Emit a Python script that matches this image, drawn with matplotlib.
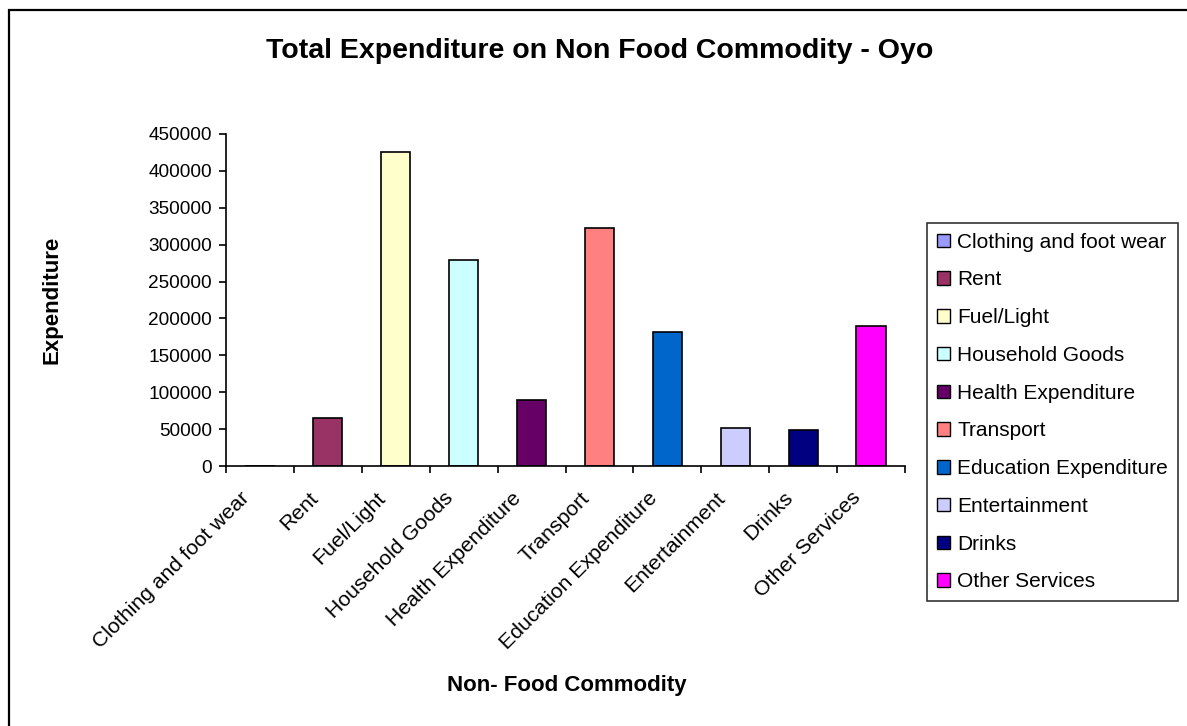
import matplotlib
matplotlib.use("Agg")
import matplotlib.pyplot as plt
from matplotlib.patches import Rectangle, Patch
from matplotlib.ticker import FixedLocator
from matplotlib.transforms import ScaledTranslation

plt.rcParams["font.family"] = ["Liberation Sans", "DejaVu Sans"]

# 数据
categories = ["Clothing and foot wear", "Rent", "Fuel/Light", "Household Goods",
              "Health Expenditure", "Transport", "Education Expenditure",
              "Entertainment", "Drinks", "Other Services"]
values = [0, 65000, 425000, 279000, 89500, 322000, 181000, 51500, 49000, 190000]
colors = ["#9999FF", "#993366", "#FFFFCC", "#CCFFFF", "#660066",
          "#FF8080", "#0066CC", "#CCCCFF", "#000080", "#FF00FF"]
yticks = [0, 50000, 100000, 150000, 200000, 250000, 300000, 350000, 400000, 450000]

W, H = 1187, 726
fig = plt.figure(figsize=(W / 100, H / 100), dpi=100)

# 外框
fig.patches.append(Rectangle((9 / W, -0.01), 1.0, 1 - 10 / H + 0.01,
                             transform=fig.transFigure, fill=False,
                             edgecolor="black", linewidth=1.6))

ax = fig.add_axes([226 / W, 1 - 466 / H, (905 - 226) / W, (466 - 134) / H])

x = list(range(len(categories)))
ax.bar(x, values, width=0.43, color=colors, edgecolor="black", linewidth=1.2)

ax.set_xlim(-0.5, len(categories) - 0.5)
ax.set_ylim(0, 450000)
ax.set_yticks(yticks)
ax.set_yticklabels([str(v) for v in yticks], fontsize=13.7)

ax.set_xticks(x)
ax.set_xticklabels(categories, fontsize=15.3, rotation=45,
                   ha="right", va="center", rotation_mode="anchor")
ax.tick_params(axis="x", which="major", length=0, pad=18)
ax.xaxis.set_minor_locator(FixedLocator([i - 0.5 for i in range(len(categories) + 1)]))
ax.tick_params(axis="x", which="minor", length=5, width=1.2, direction="out")
ax.tick_params(axis="y", length=5, width=1.2, direction="out", pad=5)

# 类别标签整体往左下挪一点
shift = ScaledTranslation(-13 / 100, -4 / 100, fig.dpi_scale_trans)
for lab in ax.get_xticklabels():
    lab.set_transform(lab.get_transform() + shift)

for s in ["top", "right"]:
    ax.spines[s].set_visible(False)
for s in ["left", "bottom"]:
    ax.spines[s].set_linewidth(1.2)

fig.text(600 / W, 1 - 51 / H, "Total Expenditure on Non Food Commodity - Oyo",
         ha="center", va="center", fontsize=20.5, fontweight="bold")
fig.text(52 / W, 1 - 300 / H, "Expenditure", rotation=90,
         ha="center", va="center", fontsize=16, fontweight="bold")
fig.text(567 / W, 1 - 686 / H, "Non- Food Commodity",
         ha="center", va="center", fontsize=16, fontweight="bold")

handles = [Patch(facecolor=c, edgecolor="black", linewidth=1.0) for c in colors]
leg = fig.legend(handles, categories, loc="upper left",
                 bbox_to_anchor=(927 / W, 1 - 223 / H), fontsize=15,
                 frameon=True, fancybox=False, handlelength=0.62, handleheight=0.62,
                 handletextpad=0.38, labelspacing=0.9, borderpad=0.46,
                 borderaxespad=0)
leg.get_frame().set_edgecolor("black")
leg.get_frame().set_linewidth(1.2)

fig.savefig("out.png", dpi=100)
